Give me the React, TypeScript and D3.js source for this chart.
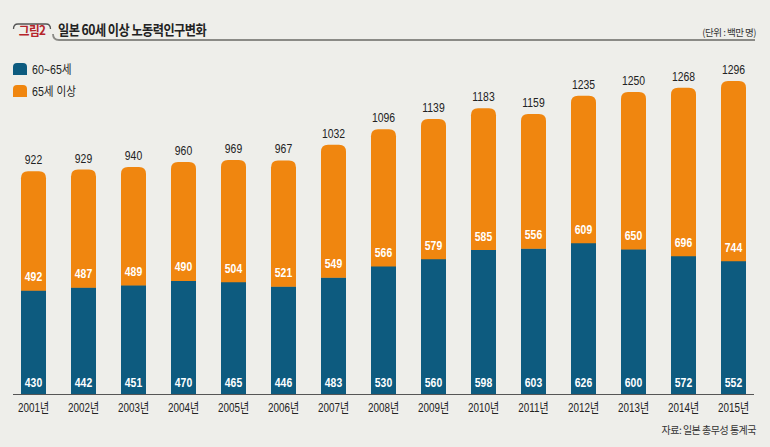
import React from "react";
import * as d3 from "d3";

const years = ["2001","2002","2003","2004","2005","2006","2007","2008","2009","2010","2011","2012","2013","2014","2015"];
const age60to65 = [430,442,451,470,465,446,483,530,560,598,603,626,600,572,552];
const age65plus = [492,487,489,490,504,521,549,566,579,585,556,609,650,696,744];
const totals = [922,929,940,960,969,967,1032,1096,1139,1183,1159,1235,1250,1268,1296];
const seriesNames = ["60~65세", "65세 이상"];

const BLUE = "#0d5b7f";
const ORANGE = "#f0860f";
const BG = "#eeeeea";
const NUM_FONT = "'Liberation Sans', Arial, 'Noto Sans CJK KR', sans-serif";
const KR_FONT = "'Noto Sans CJK KR', sans-serif";

function topRounded(x: number, y: number, w: number, h: number, r: number) {
  const rr = Math.min(r, h, w / 2);
  return `M${x},${y + h}V${y + rr}Q${x},${y} ${x + rr},${y}H${x + w - rr}Q${x + w},${y} ${x + w},${y + rr}V${y + h}Z`;
}

type TProps = { x: number; y: number; sx: number; children: React.ReactNode; [k: string]: any };
function CText({ x, y, sx, children, ...rest }: TProps) {
  return (
    <text transform={`translate(${x},${y}) scale(${sx},1)`} {...rest}>{children}</text>
  );
}

export default function App() {
  const W = 770, H = 447;
  const x = d3.scaleBand<string>().domain(years).range([8.5, 758.5]).paddingInner(0.5).paddingOuter(0.25);
  const y = d3.scaleLinear().domain([0, 1300]).range([394, 80]);
  const bw = x.bandwidth();
  return (
    <svg width={W} height={H} style={{ position: "absolute", left: 0, top: 0, background: BG }}>
      <rect x={0} y={0} width={W} height={H} fill={BG} />
      {/* title bracket */}
      <path d="M13.5,29 Q13.5,24 18,24 H46 Q50.5,24 50.5,29" fill="none" stroke="#555" strokeWidth={1.3} />
      <path d="M53,34 Q53,40 59,40 H755" fill="none" stroke="#8a8a86" strokeWidth={1.8} />
      <CText x={32} y={35} sx={0.9} textAnchor="middle" fill="#b5242a" fontSize={13} fontWeight={700} fontFamily={KR_FONT} letterSpacing={-0.8}>그림2</CText>
      <CText x={58} y={35} sx={0.87} fill="#222" fontSize={14} fontWeight={700} fontFamily={KR_FONT} letterSpacing={-0.6}>일본 60세 이상 노동력인구변화</CText>
      <text x={756} y={36} textAnchor="end" fill="#333" fontSize={9.5} fontFamily={KR_FONT} letterSpacing={-0.5}>(단위 : 백만 명)</text>
      {/* legend */}
      {seriesNames.map((n, i) => (
        <g key={n} transform={`translate(13,${63 + i * 22})`}>
          <path d={topRounded(0, 0, 14, 12, 4)} fill={i === 0 ? BLUE : ORANGE} />
          <CText x={19} y={11} sx={0.85} fontSize={12.5} fill="#222" fontFamily={NUM_FONT}>{n}</CText>
        </g>
      ))}
      {/* bars */}
      {years.map((yr, i) => {
        const x0 = x(yr)!;
        const cx = x0 + bw / 2;
        const yb = y(age60to65[i]);
        const yt = y(age60to65[i] + age65plus[i]);
        return (
          <g key={yr}>
            <rect x={x0} y={yb} width={bw} height={y(0) - yb} fill={BLUE} />
            <path d={topRounded(x0, yt, bw, yb - yt + 0.5, 7)} fill={ORANGE} />
            <CText x={cx} y={y(totals[i]) - 7} sx={0.8} textAnchor="middle" fontSize={13} fill="#222" fontFamily={NUM_FONT}>{totals[i]}</CText>
            <CText x={cx} y={yb - 9} sx={0.8} textAnchor="middle" fontSize={13} fontWeight={700} fill="#fff" fontFamily={NUM_FONT}>{age65plus[i]}</CText>
            <CText x={cx} y={y(0) - 7} sx={0.8} textAnchor="middle" fontSize={13} fontWeight={700} fill="#fff" fontFamily={NUM_FONT}>{age60to65[i]}</CText>
            <CText x={cx} y={412} sx={0.76} textAnchor="middle" fontSize={13} fill="#222" fontFamily={NUM_FONT}>{yr}년</CText>
          </g>
        );
      })}
      <line x1={13} x2={754} y1={394.5} y2={394.5} stroke="#555" strokeWidth={1} />
      <text x={756} y={434} textAnchor="end" fill="#333" fontSize={10} fontFamily={KR_FONT} letterSpacing={-0.5}>자료: 일본 총무성 통계국</text>
    </svg>
  );
}
